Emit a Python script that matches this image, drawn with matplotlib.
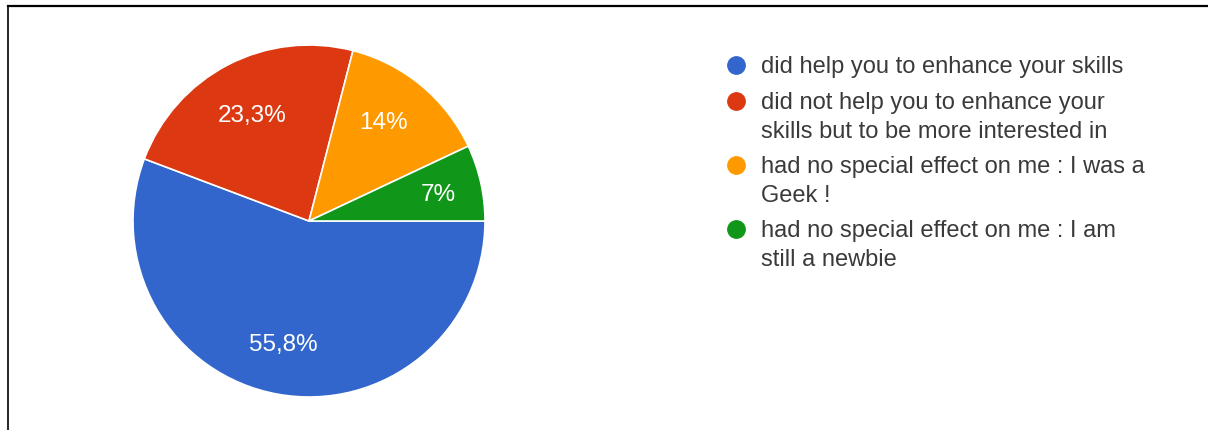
import matplotlib
matplotlib.use("Agg")
import matplotlib.pyplot as plt
from matplotlib.lines import Line2D
import numpy as np

plt.rcParams['font.family'] = ['Liberation Sans', 'DejaVu Sans']

categories = [
    "did help you to enhance your skills",
    "did not help you to enhance your\nskills but to be more interested in",
    "had no special effect on me : I was a\nGeek !",
    "had no special effect on me : I am\nstill a newbie",
]
values = [55.8, 23.3, 14.0, 7.0]
value_labels = ["55,8%", "23,3%", "14%", "7%"]
colors = ["#3366CC", "#DC3912", "#FF9900", "#109618"]

# label placement (fraction of radius, fraction across wedge from its start)
label_r = [0.72, 0.68, 0.70, 0.75]
label_frac = [0.507, 0.49, 0.45, 0.55]

W, H = 1208, 430
fig = plt.figure(figsize=(W / 100, H / 100), dpi=100)
fig.patch.set_facecolor("white")

cx, cy, R = 309, 221, 176
ax = fig.add_axes([(cx - R) / W, (H - cy - R) / H, 2 * R / W, 2 * R / H])
wedges, _ = ax.pie(values, colors=colors, startangle=0, counterclock=False,
                   radius=1.0, wedgeprops=dict(edgecolor="white", linewidth=1.2))
ax.set_xlim(-1, 1)
ax.set_ylim(-1, 1)
ax.set_aspect("equal")
ax.axis("off")

for w, lab, rf, af in zip(wedges, value_labels, label_r, label_frac):
    ang = np.deg2rad(w.theta2 - af * (w.theta2 - w.theta1))
    ax.text(rf * np.cos(ang), rf * np.sin(ang), lab, color="white",
            fontsize=17.5, ha="center", va="center")

# legend drawn manually (marker aligned with first line of each label)
mx, tx = 736, 761
y = 65
line_h, entry_gap = 28, 36
for lab, c in zip(categories, colors):
    fig.add_artist(Line2D([mx / W], [1 - y / H], marker="o", linestyle="none",
                          markersize=12.5, markerfacecolor=c, markeredgecolor=c,
                          transform=fig.transFigure))
    lines = lab.split("\n")
    for i, ln in enumerate(lines):
        fig.text(tx / W, 1 - (y + i * line_h) / H, ln, fontsize=17,
                 color="#3a3a3a", ha="left", va="center_baseline")
    y += (len(lines) - 1) * line_h + entry_gap

# frame lines
fig.add_artist(Line2D([8 / W, 1], [1 - 6.3 / H, 1 - 6.3 / H], color="black",
                      linewidth=1.6, transform=fig.transFigure))
fig.add_artist(Line2D([8 / W, 8 / W], [0, 1 - 6.3 / H], color="black",
                      linewidth=1.2, transform=fig.transFigure))

fig.savefig("out.png", dpi=100)
